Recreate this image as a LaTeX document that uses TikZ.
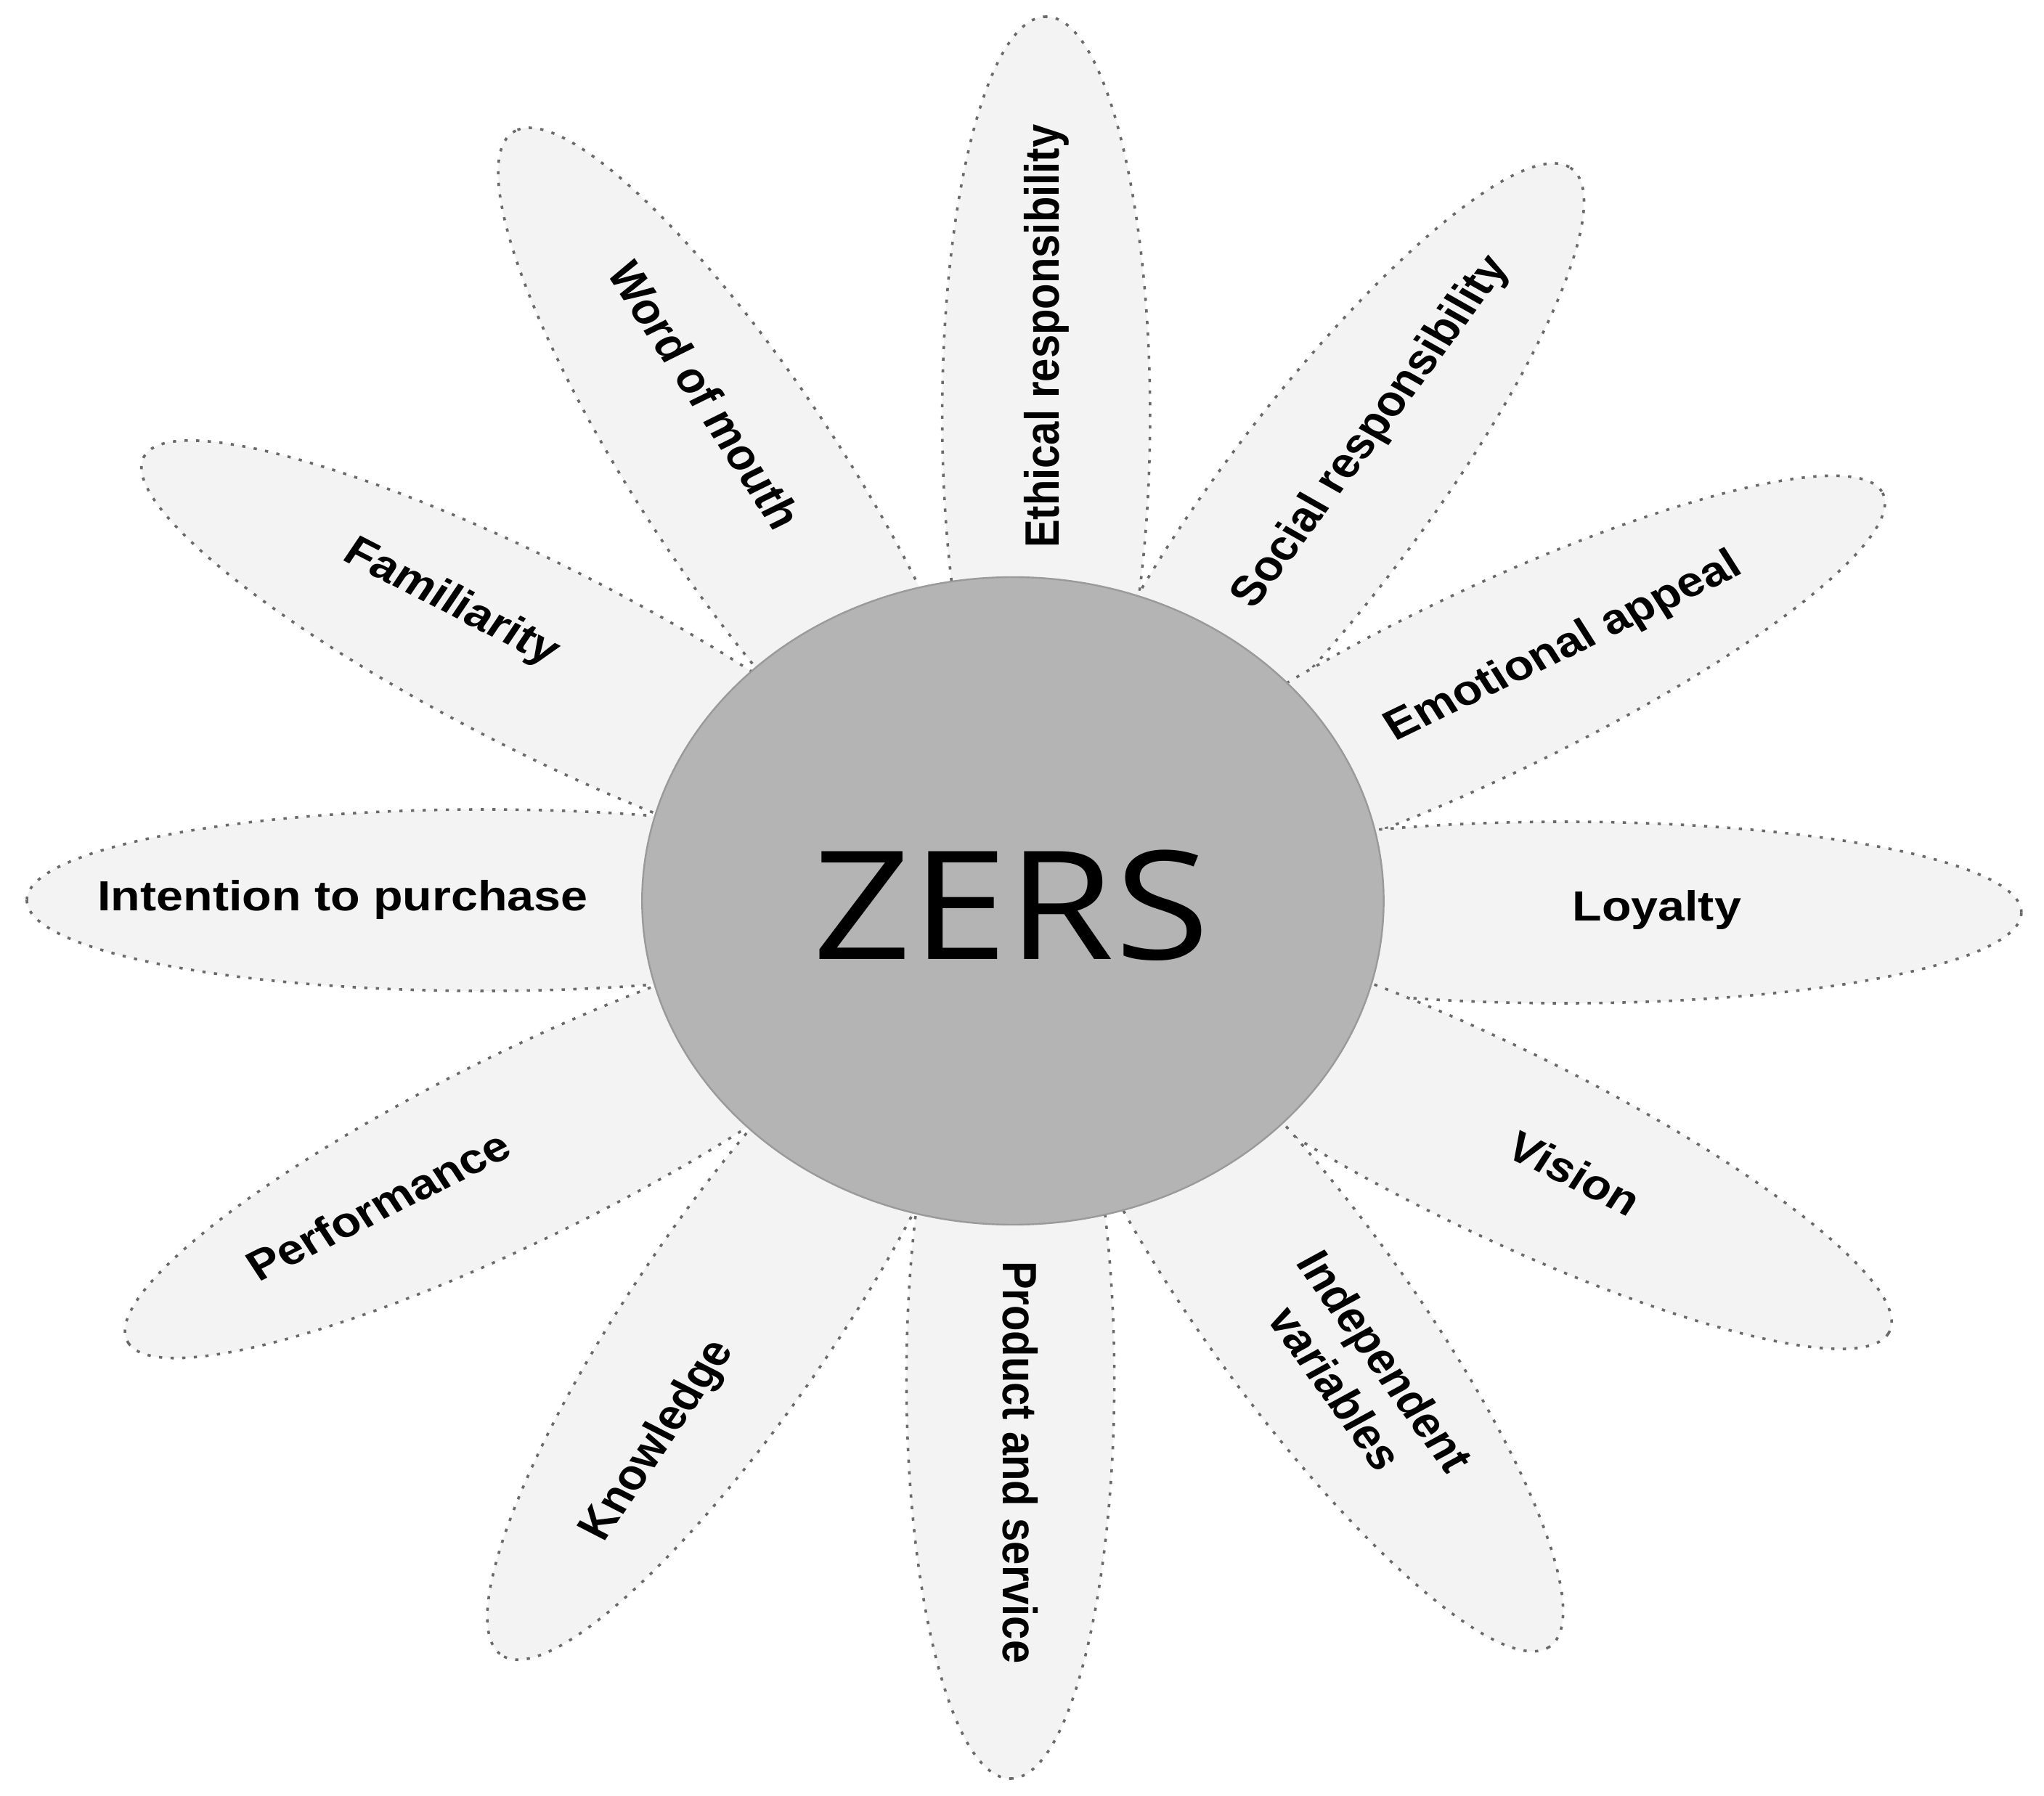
\documentclass[tikz,border=0pt]{standalone}
\usepackage{fontspec}
\setmainfont{Liberation Sans}
\newfontfamily\zersfont{Open Sans}
\usetikzlibrary{shapes.geometric}
\definecolor{petalfill}{HTML}{F3F3F3}
\definecolor{petalline}{HTML}{6A6A6A}
\definecolor{hubfill}{HTML}{B4B4B4}
\definecolor{hubline}{HTML}{9A9A9A}
\begin{document}
\begin{tikzpicture}[x=0.25pt,y=0.25pt,
  petal/.style={ellipse, draw=petalline, fill=petalfill, line width=0.9pt,
    dash pattern=on 1.1pt off 2.9pt, minimum width=275pt, minimum height=62.5pt,
    inner sep=0pt, outer sep=0pt, transform shape},
  hub/.style={circle, draw=hubline, fill=hubfill, line width=0.6pt,
    minimum size=223pt, inner sep=0pt, transform shape},
  zers/.style={font=\zersfont\fontsize{52}{60}\selectfont, text=black,
    inner sep=0pt, transform shape},
  lbl/.style={font=\fontsize{14.5}{17.5}\selectfont\bfseries, text=black,
    transform shape, inner sep=0pt, text height=10.4pt, text depth=0pt, align=center},
]
\begin{scope}[xscale=1.145]
\useasboundingbox (-1218.3,-1232) rectangle (1240.2,1241);
% petals
\node[petal, rotate=90]     (p1)  at (40,668) {};
\node[petal, rotate=57]     (p2)  at (369.5,549.7) {};
\node[petal, rotate=29]     (p3)  at (564,297.4) {};
\node[petal, rotate=0]      (p4)  at (663,-16) {};
\node[petal, rotate=-29.5]  (p5)  at (574.3,-325.2) {};
\node[petal, rotate=-58]    (p6)  at (351.6,-562.6) {};
\node[petal, rotate=-90]    (p7)  at (-3,-659) {};
\node[petal, rotate=-120.5] (p8)  at (-332.9,-567.1) {};
\node[petal, rotate=209.8]  (p9)  at (-586.7,-335.6) {};
\node[petal, rotate=180]    (p10) at (-636,1) {};
\node[petal, rotate=149.5]  (p11) at (-570.1,334.9) {};
\node[petal, rotate=119.5]  (p12) at (-327.2,582.3) {};
% centre
\node[hub] (hub) at (0,0) {};
\node[zers] (zers) at (-2,-6) {ZERS};
% labels
\node[lbl, rotate=90]    (t1)  at (34.4,777.8) {Ethical responsibility};
\node[lbl, rotate=57]    (t2)  at (426.5,648.6) {Social responsibility};
\node[lbl, rotate=29]    (t3)  at (660,354) {Emotional appeal};
\node[lbl]               (t4)  at (774.5,-6.7) {Loyalty};
\node[lbl, rotate=-29.5] (t5)  at (675.7,-374.8) {Vision};
\node[lbl, rotate=-58]   (t6)  at (389,-671) {Independent\\variables};
\node[lbl, rotate=-90]   (t7)  at (9.4,-773.3) {Product and service};
\node[lbl, rotate=59.5]  (t8)  at (-431.3,-741) {Knowledge};
\node[lbl, rotate=29.8]  (t9)  at (-763.7,-419.7) {Performance};
\node[lbl]               (t10) at (-806,7) {Intention to purchase};
\node[lbl, rotate=-30.5] (t11) at (-672.7,415.2) {Familiarity};
\node[lbl, rotate=-60.5] (t12) at (-370,697) {Word of mouth};
\end{scope}
\end{tikzpicture}
\end{document}
